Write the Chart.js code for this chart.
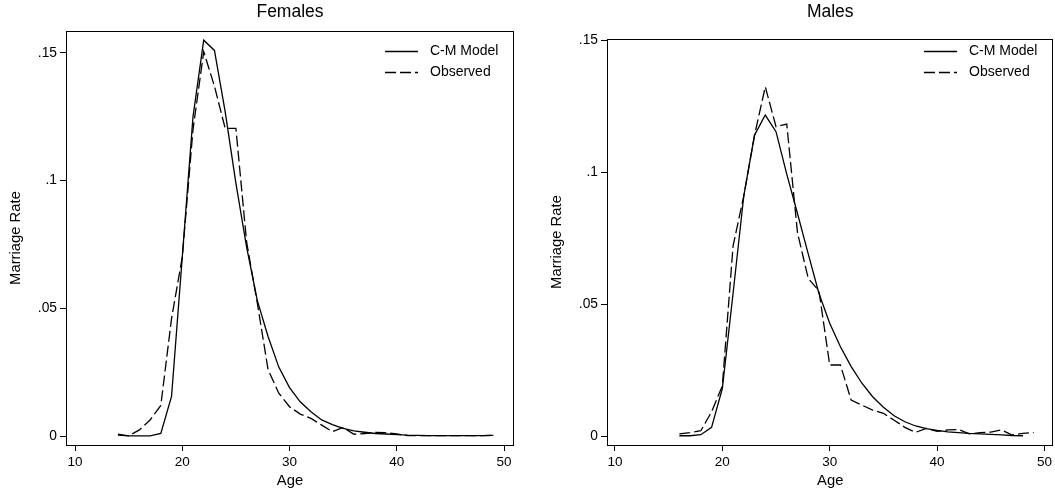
<!DOCTYPE html>
<html>
<head>
<meta charset="utf-8">
<script src="https://cdn.jsdelivr.net/npm/chart.js@4/dist/chart.umd.min.js"></script>
<style>
    body { margin: 0; background: #fff; }
    #wrap { position: relative; width: 1055px; height: 495px; }
    canvas { position: absolute; top: 0; }
</style>
</head>
<body>
<div id="wrap">
    <canvas id="femalesChart" width="527" height="495" style="left:0"></canvas>
    <canvas id="malesChart" width="528" height="495" style="left:527px"></canvas>
</div>
<script>
// Ages and marriage rates
const femaleAges = [14, 15, 16, 17, 18, 19, 20, 21, 22, 23, 24, 25, 26, 27, 28, 29, 30, 31,
    32, 33, 34, 35, 36, 37, 38, 39, 40, 41, 42, 43, 44, 45, 46, 47, 48, 49];
const femaleModel = [0.0004, 0.0001, 0.0001, 0.0001, 0.001, 0.0155, 0.070, 0.125, 0.155, 0.151,
    0.127, 0.099, 0.074, 0.053, 0.039, 0.027, 0.019, 0.0134, 0.0095, 0.0063, 0.0045, 0.003,
    0.002, 0.0015, 0.001, 0.0008, 0.0006, 0.0004, 0.0003, 0.0002, 0.0002, 0.0002, 0.0002,
    0.0002, 0.0002, 0.0003];
const femaleObserved = [0.0008, 0.0001, 0.0024, 0.0063, 0.012, 0.046, 0.070, 0.120, 0.1505, 0.137,
    0.1205, 0.1205, 0.076, 0.052, 0.026, 0.0168, 0.0115, 0.0086, 0.0069, 0.0043, 0.0017, 0.0034,
    0.0007, 0.001, 0.0014, 0.0013, 0.0008, 0.0002, 0.0002, 0.0002, 0.0002, 0.0002, 0.0002,
    0.0002, 0.0002, 0.0003];

const maleAges = [16, 17, 18, 19, 20, 21, 22, 23, 24, 25, 26, 27, 28, 29, 30, 31, 32, 33,
    34, 35, 36, 37, 38, 39, 40, 41, 42, 43, 44, 45, 46, 47, 48, 49];
const maleModel = [0.0001, 0.0001, 0.0005, 0.0033, 0.018, 0.054, 0.091, 0.114, 0.1216, 0.1153,
    0.0992, 0.0843, 0.069, 0.054, 0.0427, 0.0338, 0.0263, 0.020, 0.0149, 0.0109, 0.0077, 0.0054,
    0.0038, 0.0028, 0.0021, 0.0016, 0.0013, 0.001, 0.0008, 0.0006, 0.0004, 0.0002, 0.0001];
const maleObserved = [0.0008, 0.0013, 0.002, 0.0092, 0.019, 0.072, 0.091, 0.114, 0.1323, 0.1172,
    0.1182, 0.077, 0.0597, 0.055, 0.0269, 0.0269, 0.0136, 0.0117, 0.0098, 0.0086, 0.006, 0.0033,
    0.0014, 0.0029, 0.0018, 0.0023, 0.0025, 0.0008, 0.0013, 0.0015, 0.0023, 0.0004, 0.001, 0.0013];

const xTicks = [10, 20, 30, 40, 50];
const yTicks = [0, 0.05, 0.1, 0.15];

const FONT = '"Liberation Sans", Arial, sans-serif';

// box round the plot + legend in the top right corner
const frameAndLegend = {
    id: 'frameAndLegend',
    afterDraw(chart) {
        const { ctx, chartArea: a } = chart;
        ctx.save();
        ctx.strokeStyle = '#000';
        ctx.lineWidth = 1;
        const l = Math.round(a.left) + 0.5, t = Math.round(a.top) + 0.5;
        ctx.strokeRect(l, t, Math.round(a.right) - Math.round(a.left) - 1, Math.round(a.bottom) - Math.round(a.top));

        ctx.font = '14px ' + FONT;
        ctx.textBaseline = 'middle';
        ctx.fillStyle = '#000';
        chart.data.datasets.forEach((ds, i) => {
            const y = 51.5 + i * 21;
            const x0 = Math.round(a.right) - 129;
            ctx.setLineDash(ds.borderDash || []);
            ctx.lineWidth = ds.borderWidth;
            ctx.beginPath();
            ctx.moveTo(x0, y);
            ctx.lineTo(x0 + 33, y);
            ctx.stroke();
            ctx.setLineDash([]);
            ctx.fillText(ds.label, x0 + 45, y);
        });
        ctx.restore();
    }
};

function toPoints(ages, values) {
    return values.map((v, i) => ({ x: ages[i], y: v }));
}

function makeChart(id, title, ages, model, observed, o) {
    return new Chart(document.getElementById(id), {
        type: 'line',
        data: {
            datasets: [
                { label: 'C-M Model', data: toPoints(ages, model), borderColor: '#000', borderWidth: 1.3 },
                { label: 'Observed', data: toPoints(ages, observed), borderColor: '#000', borderWidth: 1.3, borderDash: [11, 4] }
            ]
        },
        options: {
            responsive: false,
            animation: false,
            layout: { padding: { left: o.padLeft, right: o.padRight, top: 0, bottom: 0 } },
            elements: { point: { radius: 0 }, line: { tension: 0 } },
            plugins: {
                legend: { display: false },
                tooltip: { enabled: false },
                title: {
                    display: true, text: title, fullSize: false, color: '#000',
                    font: { family: FONT, size: 17.5, weight: 'normal', lineHeight: 1.2 },
                    padding: { top: 2, bottom: o.titleBottom }
                }
            },
            scales: {
                x: {
                    type: 'linear', min: o.xMin, max: o.xMax,
                    afterFit: s => { s.height = 50; },
                    afterBuildTicks: s => { s.ticks = xTicks.map(v => ({ value: v })); },
                    border: { display: false },
                    grid: { drawOnChartArea: false, drawTicks: true, tickLength: 6, color: '#000' },
                    ticks: { color: '#000', padding: 3, maxRotation: 0, font: { family: FONT, size: 13.5 } },
                    title: { display: true, text: 'Age', color: '#000', padding: { top: 0, bottom: 5 }, font: { family: FONT, size: 14.8 } }
                },
                y: {
                    type: 'linear', min: o.yMin, max: o.yMax,
                    afterFit: s => { s.width = 66; },
                    afterBuildTicks: s => { s.ticks = yTicks.map(v => ({ value: v })); },
                    border: { display: false },
                    grid: { drawOnChartArea: false, drawTicks: true, tickLength: 6, color: '#000' },
                    ticks: {
                        color: '#000', padding: 3, font: { family: FONT, size: 13.8 },
                        callback: v => v === 0 ? '0' : String(+v.toFixed(2)).replace(/^0/, '')
                    },
                    title: { display: true, text: 'Marriage Rate', color: '#000', padding: { top: 7, bottom: 0 }, font: { family: FONT, size: 14.8 } }
                }
            }
        },
        plugins: [frameAndLegend]
    });
}

makeChart('femalesChart', 'Females', femaleAges, femaleModel, femaleObserved,
    { xMin: 9.16, xMax: 50.93, yMin: -0.0035, yMax: 0.1586, padLeft: 0, padRight: 13, titleBottom: 8.0 });
makeChart('malesChart', 'Males', maleAges, maleModel, maleObserved,
    { xMin: 9.26, xMax: 50.84, yMin: -0.0034, yMax: 0.1504, padLeft: 14, padRight: 1, titleBottom: 16.0 });
</script>
</body>
</html>
